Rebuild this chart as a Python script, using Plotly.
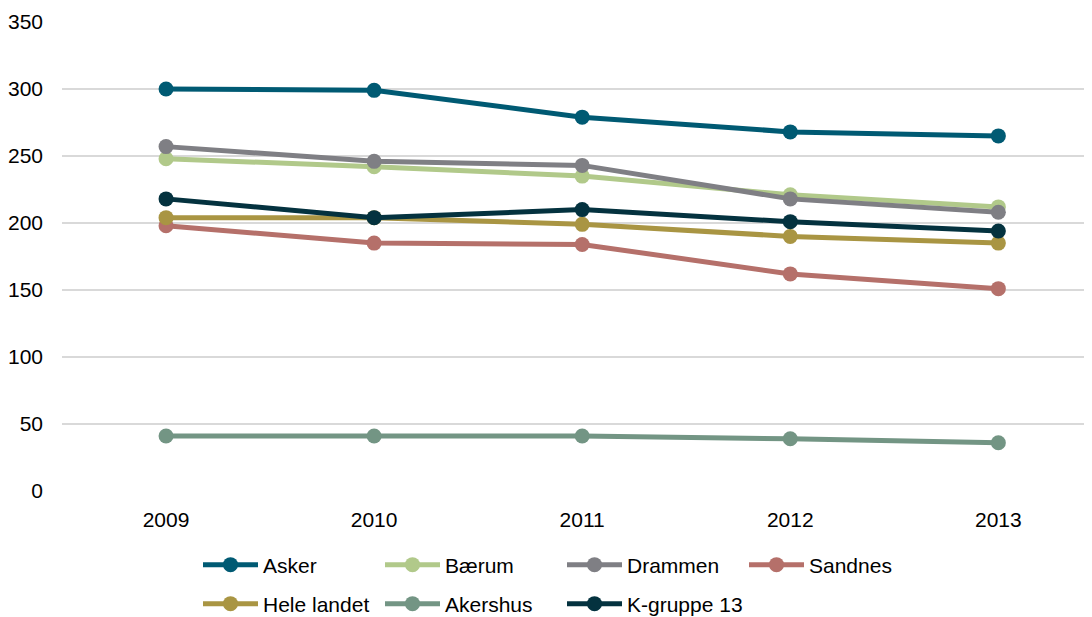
import plotly.graph_objects as go

years = ["2009", "2010", "2011", "2012", "2013"]
asker = [300, 299, 279, 268, 265]
baerum = [248, 242, 235, 221, 212]
drammen = [257, 246, 243, 218, 208]
sandnes = [198, 185, 184, 162, 151]
hele_landet = [204, 204, 199, 190, 185]
akershus = [41, 41, 41, 39, 36]
kgruppe = [218, 204, 210, 201, 194]

series = [
    ("Asker", asker, "#005A73", "legend"),
    ("Bærum", baerum, "#B1C98A", "legend"),
    ("Drammen", drammen, "#7F7F84", "legend"),
    ("Sandnes", sandnes, "#B5706A", "legend"),
    ("Hele landet", hele_landet, "#A99543", "legend2"),
    ("Akershus", akershus, "#739584", "legend2"),
    ("K-gruppe 13", kgruppe, "#04323F", "legend2"),
]

fig = go.Figure()
for name, vals, col, lg in series:
    fig.add_trace(go.Scatter(
        x=years, y=vals, name=name, mode="lines+markers",
        line=dict(color=col, width=5),
        marker=dict(color=col, size=15),
        legend=lg,
    ))

FONT = "Liberation Sans, Arial, sans-serif"
# page body has an 8px margin; figure size compensates so it fills the window
W, H = 1084, 609
leg_common = dict(orientation="h", xref="container", yref="container",
                  xanchor="left", yanchor="middle",
                  entrywidth=112, entrywidthmode="pixels", itemwidth=55,
                  font=dict(size=21, family=FONT, color="#000000"),
                  bgcolor="rgba(0,0,0,0)")

fig.update_layout(
    width=W, height=H,
    margin=dict(l=54, r=0, t=14, b=126, autoexpand=False),
    paper_bgcolor="white", plot_bgcolor="white",
    font=dict(family=FONT, size=21, color="#000000"),
    xaxis=dict(type="category", range=[-0.5, 4.45], showgrid=False, showline=False,
               ticks="", zeroline=False, tickfont=dict(size=21),
               ticklabelstandoff=14),
    yaxis=dict(range=[0, 350], dtick=50, showgrid=True, gridcolor="#D9D9D9", gridwidth=1.5,
               zeroline=False, showline=False, ticks="", tickfont=dict(size=21),
               ticklabelstandoff=18),
    legend=dict(x=190 / W, y=1 - 557 / H, **leg_common),
    legend2=dict(x=190 / W, y=1 - 596 / H, **leg_common),
    showlegend=True,
)

fig.write_html("out.html")
